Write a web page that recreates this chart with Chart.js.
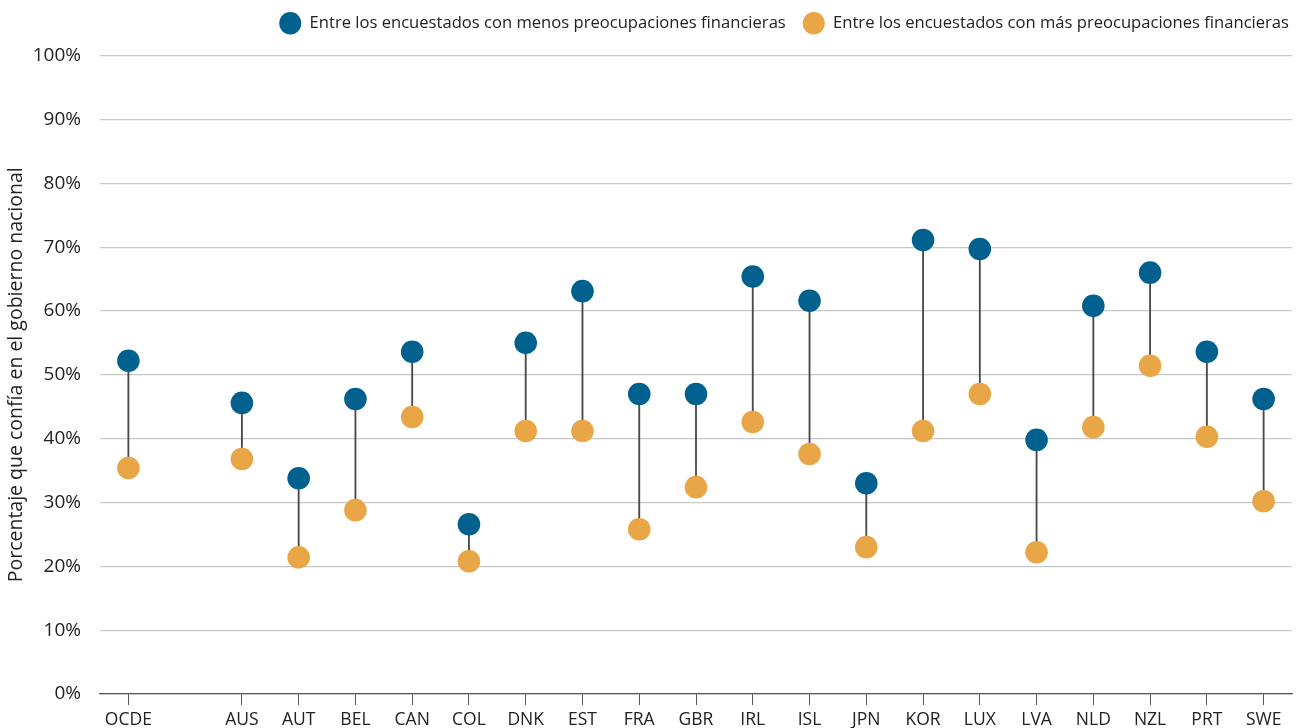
<!DOCTYPE html>
<html>
<head>
<meta charset="utf-8">
<script src="https://cdn.jsdelivr.net/npm/chart.js@4.4.1/dist/chart.umd.min.js"></script>
<style>
html,body{margin:0;padding:0;background:#fff;}
#wrap{width:1306px;height:728px;position:relative;}
</style>
</head>
<body>
<div id="wrap"><canvas id="c" width="1306" height="728"></canvas></div>
<script>
const categories = ['OCDE','','AUS','AUT','BEL','CAN','COL','DNK','EST','FRA','GBR','IRL','ISL','JPN','KOR','LUX','LVA','NLD','NZL','PRT','SWE'];
const lessConcerns = [52.2,null,45.6,33.8,46.2,53.6,26.6,55.0,63.1,47.0,47.0,65.4,61.6,33.0,71.1,69.7,39.8,60.8,66.0,53.6,46.2];
const moreConcerns = [35.4,null,36.8,21.4,28.8,43.4,20.8,41.2,41.2,25.8,32.4,42.6,37.6,23.0,41.2,47.0,22.2,41.8,51.4,40.3,30.2];
const yTicks = [0,10,20,30,40,50,60,70,80,90,100];
const seriesNames = ['Entre los encuestados con menos preocupaciones financieras','Entre los encuestados con más preocupaciones financieras'];
const yTitle = 'Porcentaje que confía en el gobierno nacional';

const BLUE = '#00618f';
const ORANGE = '#e8a646';
const FONT = "'Open Sans', sans-serif";

const ranges = lessConcerns.map((v,i)=> v==null ? null : [moreConcerns[i], v]);

const legendTweak = {
  id:'legendTweak',
  beforeInit(chart){
    const fit = chart.legend.fit;
    chart.legend.fit = function(){ fit.call(this); this.height += 14; };
  },
  afterLayout(chart){ chart.legend.right = chart.width; }
};

new Chart(document.getElementById('c'), {
  data: {
    labels: categories,
    datasets: [
      { type:'line', label: seriesNames[0], data: lessConcerns, showLine:false,
        pointRadius:11.3, pointHoverRadius:11.3, pointBackgroundColor:BLUE, pointBorderColor:BLUE, pointBorderWidth:0,
        backgroundColor:BLUE, borderColor:BLUE, order:1 },
      { type:'line', label: seriesNames[1], data: moreConcerns, showLine:false,
        pointRadius:11.3, pointHoverRadius:11.3, pointBackgroundColor:ORANGE, pointBorderColor:ORANGE, pointBorderWidth:0,
        backgroundColor:ORANGE, borderColor:ORANGE, order:2 },
      { type:'bar', label:'range', data: ranges, backgroundColor:'#4a4a4a', borderWidth:0,
        barThickness:1.2, order:3 }
    ]
  },
  plugins:[legendTweak],
  options: {
    responsive:false,
    animation:false,
    layout:{ padding:{ left:3, right:14, top:-2, bottom:-8 } },
    plugins:{
      tooltip:{ enabled:false },
      legend:{
        position:'top', align:'end',
        labels:{
          filter:(item)=> item.datasetIndex < 2,
          usePointStyle:true, pointStyle:'circle', boxHeight:16, pointStyleWidth:22,
          color:'#222', padding:17,
          font:{ family:FONT, size:16.6 }
        }
      }
    },
    scales:{
      x:{
        offset:true,
        grid:{ offset:false, drawOnChartArea:false, drawTicks:true, tickLength:11,
               color:(c)=> (categories[c.index] ? '#555' : 'rgba(0,0,0,0)'), lineWidth:1 },
        border:{ display:true, color:'#555', width:1.2 },
        ticks:{ color:'#222', font:{ family:FONT, size:17.5 }, padding:5, autoSkip:false, maxRotation:0 }
      },
      y:{
        min:0, max:100,
        afterBuildTicks:(s)=>{ s.ticks = yTicks.map(v=>({value:v})); },
        afterFit:(s)=>{ s.width = 97; },
        grid:{ drawTicks:false, color:'#c8c8c8', lineWidth:1.2 },
        border:{ display:false },
        ticks:{ color:'#222', font:{ family:FONT, size:19 }, padding:19, callback:(v)=> v + '%' },
        title:{ display:true, text:yTitle, color:'#222', font:{ family:FONT, size:19.5 }, padding:{ top:2, bottom:4 } }
      }
    }
  }
});
</script>
</body>
</html>
